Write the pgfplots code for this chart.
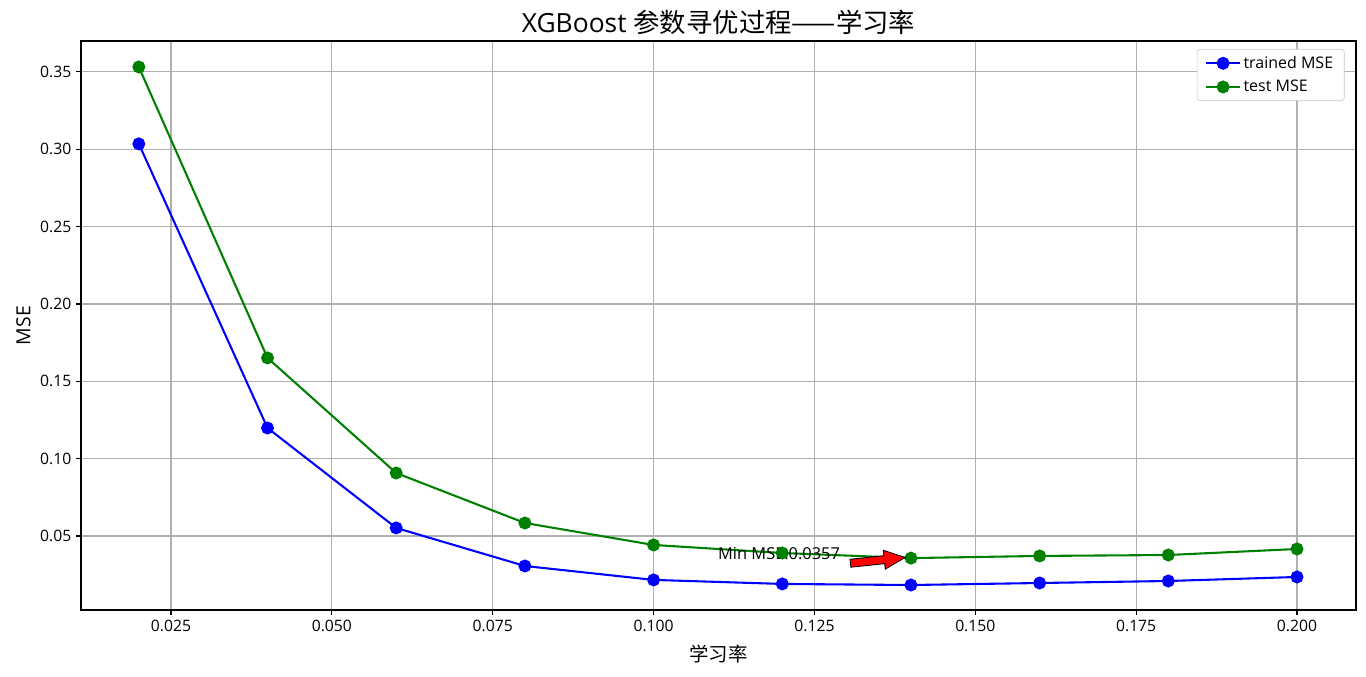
\documentclass[border=0pt]{standalone}
\usepackage{fontspec}
\setmainfont{Open Sans}
\newfontfamily\cjk{Noto Sans CJK SC}
\usepackage{pgfplots}
\pgfplotsset{compat=1.18}
\definecolor{mplgreen}{RGB}{0,128,0}
\definecolor{gridgray}{RGB}{176,176,176}
\begin{document}
\begin{tikzpicture}
\useasboundingbox (-58.32pt,-48.24pt) rectangle ++(983.52pt,487.44pt);
\begin{axis}[
  scale only axis,
  width=918pt, height=409.68pt,
  xmin=0.01101, xmax=0.20917,
  ymin=0.00215, ymax=0.37,
  xtick={0.025,0.05,0.075,0.1,0.125,0.15,0.175,0.2},
  ytick={0.05,0.1,0.15,0.2,0.25,0.3,0.35},
  xticklabel style={/pgf/number format/.cd,fixed,fixed zerofill,precision=3},
  yticklabel style={/pgf/number format/.cd,fixed,fixed zerofill,precision=2},
  scaled ticks=false,
  /pgf/number format/assume math mode=true,
  ticklabel style={font=\fontsize{11.3}{13}\selectfont},
  tick align=outside, tick pos=left,
  major tick length=3.5pt,
  every tick/.style={black, line width=0.8pt},
  grid=major,
  major grid style={gridgray, line width=0.8pt},
  axis line style={line width=0.8pt},
  title={XGBoost {\cjk 参数寻优过程——学习率}},
  title style={font=\fontsize{19}{22}\selectfont, yshift=-5pt},
  xlabel={{\cjk 学习率}}, ylabel={MSE},
  xlabel style={yshift=-3pt},
  label style={font=\fontsize{14}{16}\selectfont},
  legend style={at={(0.991,0.986)}, anchor=north east, font=\fontsize{11.5}{13}\selectfont, draw=gridgray!70, rounded corners=2pt, row sep=3pt, inner xsep=6pt, inner ysep=3pt},
  legend cell align=left,
  legend image code/.code={\draw[mark repeat=2,mark phase=2] plot coordinates {(0pt,0pt) (12pt,0pt) (24pt,0pt)};},
]
\addplot[blue, line width=1.5pt, mark=*, mark size=3.9pt] coordinates {
(0.02,0.3035) (0.04,0.1198) (0.06,0.0552) (0.08,0.0306) (0.10,0.0216)
(0.12,0.0190) (0.14,0.0183) (0.16,0.0196) (0.18,0.0209) (0.20,0.0235)};
\addlegendentry{trained MSE}
\addplot[mplgreen, line width=1.5pt, mark=*, mark size=3.9pt] coordinates {
(0.02,0.3532) (0.04,0.1651) (0.06,0.0907) (0.08,0.0584) (0.10,0.0442)
(0.12,0.0390) (0.14,0.0357) (0.16,0.0371) (0.18,0.0377) (0.20,0.0416)};
\addlegendentry{test MSE}
\node[anchor=base west, inner sep=0pt, font=\fontsize{11.8}{13}\selectfont] at (axis cs:0.110,0.0345) {Min MSE:0.0357};
\coordinate (tip) at (axis cs:0.1391,0.0361);
\end{axis}
\begin{scope}[shift={(tip)}, rotate=6, x=0.72pt, y=0.72pt]
\draw[fill=red, draw=black, line width=0.6pt] (0,0) -- (-21,9.5) -- (-21,4) -- (-55,4) -- (-55,-4) -- (-21,-4) -- (-21,-9.5) -- cycle;
\end{scope}
\end{tikzpicture}
\end{document}
